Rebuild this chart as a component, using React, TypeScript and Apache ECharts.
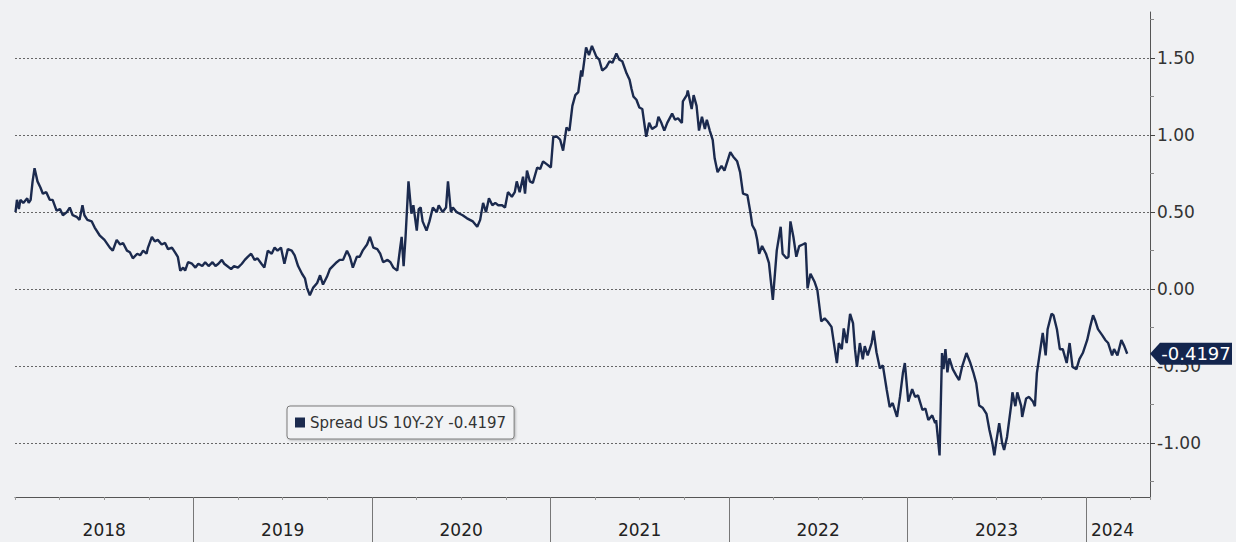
import React, { useEffect, useRef } from "react";
import * as echarts from "echarts";

const seriesName = "Spread US 10Y-2Y";

const dates: string[] = [
  "2018-01-02","2018-01-05","2018-01-09","2018-01-12","2018-01-18","2018-01-26","2018-01-29","2018-02-02","2018-02-06","2018-02-10",
  "2018-02-16","2018-02-22","2018-02-27","2018-03-06","2018-03-13","2018-03-19","2018-03-27","2018-04-03","2018-04-09","2018-04-17",
  "2018-04-23","2018-04-29","2018-05-07","2018-05-13","2018-05-19","2018-05-23","2018-05-29","2018-06-07","2018-06-13","2018-06-23",
  "2018-07-03","2018-07-14","2018-07-20","2018-07-28","2018-08-04","2018-08-10","2018-08-18","2018-08-24","2018-08-30","2018-09-08",
  "2018-09-14","2018-09-20","2018-09-27","2018-09-30","2018-10-08","2018-10-14","2018-10-20","2018-10-28","2018-11-04","2018-11-10",
  "2018-11-18","2018-11-24","2018-11-30","2018-12-05","2018-12-11","2018-12-15","2018-12-21","2018-12-29",
  "2019-01-05","2019-01-11","2019-01-19","2019-01-25","2019-02-01","2019-02-09","2019-02-15","2019-02-21","2019-02-28","2019-03-05",
  "2019-03-11","2019-03-19","2019-03-25","2019-04-02","2019-04-10","2019-04-16","2019-04-22","2019-04-29","2019-05-06","2019-05-12",
  "2019-05-20","2019-05-26","2019-06-02","2019-06-10","2019-06-16","2019-06-22","2019-06-29","2019-07-06","2019-07-13","2019-07-21",
  "2019-07-27","2019-08-03","2019-08-11","2019-08-17","2019-08-21","2019-08-27","2019-09-03","2019-09-11","2019-09-17","2019-09-23",
  "2019-10-01","2019-10-07","2019-10-13","2019-10-21","2019-10-27","2019-11-03","2019-11-11","2019-11-17","2019-11-23","2019-12-01",
  "2019-12-07","2019-12-13","2019-12-22","2019-12-28",
  "2020-01-04","2020-01-12","2020-01-18","2020-01-24","2020-02-02","2020-02-08","2020-02-14","2020-02-22","2020-02-28","2020-03-02",
  "2020-03-06","2020-03-10","2020-03-16","2020-03-22","2020-03-26","2020-04-02","2020-04-06","2020-04-10","2020-04-14","2020-04-22",
  "2020-04-28","2020-05-05","2020-05-13","2020-05-17","2020-05-25","2020-06-01","2020-06-05","2020-06-11","2020-06-15","2020-06-23",
  "2020-06-29","2020-07-05","2020-07-14","2020-07-20","2020-07-26","2020-08-04","2020-08-10","2020-08-16","2020-08-22","2020-08-28",
  "2020-09-04","2020-09-10","2020-09-16","2020-09-24","2020-09-30","2020-10-06","2020-10-14","2020-10-20","2020-10-24","2020-10-30",
  "2020-11-06","2020-11-10","2020-11-14","2020-11-20","2020-11-26","2020-12-05","2020-12-11","2020-12-17","2020-12-25",
  "2021-01-02","2021-01-07","2021-01-15","2021-01-21","2021-01-27","2021-02-03","2021-02-09","2021-02-15","2021-02-21","2021-02-27",
  "2021-03-05","2021-03-07","2021-03-15","2021-03-21","2021-03-27","2021-04-05","2021-04-11","2021-04-17","2021-04-25","2021-05-02",
  "2021-05-08","2021-05-16","2021-05-22","2021-05-28","2021-06-06","2021-06-12","2021-06-16","2021-06-20","2021-06-26","2021-07-02",
  "2021-07-08","2021-07-16","2021-07-22","2021-07-28","2021-08-06","2021-08-10","2021-08-16","2021-08-22","2021-08-28","2021-09-07",
  "2021-09-13","2021-09-19","2021-09-27","2021-09-29","2021-10-07","2021-10-09","2021-10-17","2021-10-21","2021-10-27","2021-11-01",
  "2021-11-07","2021-11-13","2021-11-17","2021-11-23","2021-11-29","2021-12-03","2021-12-09","2021-12-17","2021-12-23",
  "2022-01-04","2022-01-10","2022-01-18","2022-01-24","2022-01-30","2022-02-08","2022-02-14","2022-02-18","2022-02-24","2022-02-28",
  "2022-03-04","2022-03-10","2022-03-18","2022-03-24","2022-04-01","2022-04-09","2022-04-17","2022-04-21","2022-04-29","2022-05-03",
  "2022-05-07","2022-05-13","2022-05-19","2022-05-25","2022-06-01","2022-06-07","2022-06-11","2022-06-17","2022-06-25","2022-07-01",
  "2022-07-09","2022-07-16","2022-07-22","2022-07-30","2022-08-05","2022-08-10","2022-08-14","2022-08-20","2022-08-24","2022-08-30",
  "2022-09-06","2022-09-12","2022-09-16","2022-09-20","2022-09-26","2022-10-02","2022-10-06","2022-10-12","2022-10-20","2022-10-24",
  "2022-10-30","2022-11-06","2022-11-12","2022-11-20","2022-11-26","2022-12-02","2022-12-11","2022-12-17","2022-12-23","2022-12-27",
  "2023-01-03","2023-01-11","2023-01-17","2023-01-23","2023-02-01","2023-02-07","2023-02-13","2023-02-21","2023-02-27","2023-03-01",
  "2023-03-08","2023-03-13","2023-03-16","2023-03-20","2023-03-24","2023-03-28","2023-04-04","2023-04-11","2023-04-17","2023-04-23",
  "2023-05-02","2023-05-10","2023-05-16","2023-05-22","2023-05-28","2023-06-04","2023-06-12","2023-06-18","2023-06-24","2023-06-28",
  "2023-07-02","2023-07-08","2023-07-14","2023-07-18","2023-07-24","2023-08-02","2023-08-04","2023-08-10","2023-08-14","2023-08-22",
  "2023-08-24","2023-09-01","2023-09-07","2023-09-15","2023-09-19","2023-09-23","2023-09-29","2023-10-05","2023-10-11","2023-10-15",
  "2023-10-23","2023-10-27","2023-11-03","2023-11-09","2023-11-15","2023-11-23","2023-11-29","2023-12-05","2023-12-13","2023-12-19",
  "2023-12-26",
  "2024-01-04","2024-01-10","2024-01-16","2024-01-20","2024-01-26","2024-02-04","2024-02-10","2024-02-16","2024-02-24","2024-02-28",
  "2024-03-06","2024-03-14","2024-03-20","2024-03-26"
];

const values: number[] = [
  0.50,0.58,0.52,0.58,0.56,0.59,0.56,0.58,0.70,0.785,
  0.70,0.66,0.62,0.63,0.58,0.58,0.51,0.52,0.48,0.50,
  0.53,0.48,0.47,0.45,0.545,0.48,0.45,0.44,0.40,0.35,
  0.32,0.27,0.25,0.32,0.29,0.30,0.25,0.24,0.20,0.23,
  0.22,0.25,0.23,0.27,0.34,0.31,0.32,0.29,0.30,0.26,
  0.27,0.24,0.21,0.12,0.14,0.12,0.175,0.165,
  0.14,0.165,0.15,0.175,0.15,0.175,0.15,0.165,0.19,0.165,
  0.15,0.13,0.15,0.14,0.165,0.19,0.21,0.23,0.19,0.20,
  0.165,0.14,0.25,0.23,0.27,0.25,0.27,0.165,0.26,0.25,
  0.22,0.15,0.10,0.07,0.01,-0.04,0.01,0.04,0.09,0.03,
  0.08,0.13,0.15,0.175,0.19,0.19,0.25,0.21,0.14,0.21,
  0.21,0.25,0.29,0.34,
  0.27,0.26,0.23,0.175,0.19,0.175,0.14,0.12,0.27,0.34,
  0.15,0.34,0.70,0.49,0.545,0.38,0.52,0.53,0.44,0.38,
  0.44,0.53,0.50,0.545,0.50,0.53,0.70,0.50,0.53,0.50,
  0.49,0.48,0.46,0.45,0.44,0.405,0.45,0.56,0.50,0.59,
  0.545,0.56,0.545,0.545,0.53,0.63,0.60,0.63,0.70,0.63,
  0.73,0.62,0.77,0.70,0.69,0.79,0.78,0.83,0.81,
  0.79,0.99,0.99,0.97,0.90,1.05,1.03,1.19,1.26,1.28,
  1.42,1.38,1.57,1.52,1.58,1.51,1.49,1.42,1.44,1.48,
  1.47,1.53,1.49,1.48,1.40,1.36,1.30,1.25,1.23,1.18,
  1.17,0.99,1.08,1.04,1.06,1.12,1.08,1.03,1.08,1.14,
  1.10,1.11,1.08,1.22,1.26,1.29,1.17,1.26,1.19,1.03,
  1.12,1.04,1.10,1.03,0.97,0.85,0.76,0.80,0.77,
  0.89,0.86,0.83,0.76,0.62,0.61,0.50,0.415,0.38,0.32,
  0.23,0.28,0.23,0.17,-0.07,0.25,0.405,0.23,0.20,0.21,
  0.44,0.34,0.21,0.28,0.29,0.30,0.005,0.10,0.05,-0.005,
  -0.21,-0.19,-0.21,-0.245,-0.375,-0.48,-0.35,-0.39,-0.255,-0.35,
  -0.16,-0.22,-0.39,-0.505,-0.35,-0.455,-0.37,-0.43,-0.35,-0.27,
  -0.41,-0.515,-0.495,-0.655,-0.765,-0.74,-0.83,-0.70,-0.545,-0.48,
  -0.73,-0.65,-0.70,-0.69,-0.785,-0.775,-0.85,-0.82,-0.87,-0.85,
  -1.08,-0.415,-0.52,-0.39,-0.54,-0.45,-0.52,-0.56,-0.59,-0.505,
  -0.415,-0.48,-0.54,-0.61,-0.755,-0.77,-0.81,-0.915,-1.00,-1.08,
  -0.99,-0.87,-1.00,-1.045,-0.96,-0.74,-0.67,-0.76,-0.67,-0.76,
  -0.83,-0.71,-0.70,-0.73,-0.76,-0.545,-0.415,-0.285,-0.43,-0.26,
  -0.16,-0.17,-0.26,-0.39,-0.39,-0.48,-0.35,-0.505,-0.52,-0.455,
  -0.415,
  -0.33,-0.245,-0.17,-0.20,-0.26,-0.30,-0.33,-0.35,-0.43,-0.39,
  -0.43,-0.33,-0.37,-0.4197
];

const yTickValues = [-1, -0.5, 0, 0.5, 1, 1.5];
const yMinorTickValues = [-1.25, -0.75, -0.25, 0.25, 0.75, 1.25, 1.75];
const yearSeparators = [2019, 2020, 2021, 2022, 2023, 2024];
const yearLabelPositions = [2018.5, 2019.5, 2020.5, 2021.5, 2022.5, 2023.5, 2024.15];
const xMin = 2018;
const xMax = 2024.36;
const yMin = -1.35;
const yMax = 1.8;

const NAVY = "#1b2a4e";
const FONT = "DejaVu Sans";

function toYearFraction(s: string): number {
  const [y, m, d] = s.split("-").map(Number);
  const start = Date.UTC(y, 0, 1);
  const end = Date.UTC(y + 1, 0, 1);
  return y + (Date.UTC(y, m - 1, d) - start) / (end - start);
}

export default function App() {
  const ref = useRef<HTMLDivElement>(null);

  useEffect(() => {
    if (!ref.current) return;
    const chart = echarts.init(ref.current, undefined, { renderer: "svg" });
    const points = dates.map((d, i) => [toYearFraction(d), values[i]]);
    const last = values[values.length - 1];
    const lastText = last.toFixed(4);

    chart.setOption({
      animation: false,
      backgroundColor: "#f0f1f3",
      grid: { left: 15, right: 86, top: 12, bottom: 45, containLabel: false },
      legend: {
        data: [seriesName],
        left: 287,
        top: 406,
        orient: "horizontal",
        icon: "rect",
        itemWidth: 10,
        itemHeight: 10,
        itemGap: 6,
        padding: [9, 8, 9, 8],
        borderColor: "#7a7a7a",
        borderWidth: 1,
        borderRadius: 3,
        backgroundColor: "#f2f3f5",
        shadowColor: "rgba(0,0,0,0.25)",
        shadowBlur: 2,
        shadowOffsetX: 1,
        shadowOffsetY: 1,
        textStyle: { color: "#333", fontSize: 15, fontFamily: FONT },
        formatter: (name: string) => `${name} ${lastText}`,
        selectedMode: false,
      },
      xAxis: [
        {
          type: "value",
          min: xMin,
          max: xMax,
          interval: 0.25,
          position: "bottom",
          axisLine: { show: true, onZero: false, lineStyle: { color: "#555", width: 1 } },
          axisTick: { show: true, length: 3, lineStyle: { color: "#999" } },
          axisLabel: {
            show: true,
            customValues: yearLabelPositions,
            formatter: (v: number) => String(Math.floor(v)),
            color: "#222",
            fontSize: 17,
            fontFamily: FONT,
            margin: 24,
          },
          splitLine: { show: false },
        },
        {
          type: "value",
          min: xMin,
          max: xMax,
          position: "bottom",
          axisLine: { show: false, onZero: false },
          axisTick: {
            show: true,
            customValues: yearSeparators,
            length: 45,
            lineStyle: { color: "#777", width: 1 },
          },
          axisLabel: { show: false },
          splitLine: { show: false },
        },
      ],
      yAxis: [
        {
          type: "value",
          min: yMin,
          max: yMax,
          position: "right",
          axisLine: { show: true, onZero: false, lineStyle: { color: "#555", width: 1 } },
          axisTick: {
            show: true,
            customValues: yTickValues,
            length: 5,
            lineStyle: { color: "#444" },
          },
          axisLabel: {
            show: true,
            customValues: yTickValues,
            formatter: (v: number) => v.toFixed(2),
            color: "#333",
            fontSize: 17,
            fontFamily: FONT,
            margin: 7,
          },
          splitLine: {
            show: true,
            lineStyle: { color: "#666", type: [2, 2], width: 1 },
          },
        },
        {
          type: "value",
          min: yMin,
          max: yMax,
          position: "right",
          axisLine: { show: false, onZero: false },
          axisTick: {
            show: true,
            customValues: yMinorTickValues,
            length: 4,
            lineStyle: { color: "#888" },
          },
          axisLabel: { show: false },
          splitLine: { show: false },
        },
      ],
      series: [
        {
          name: seriesName,
          type: "line",
          xAxisIndex: 0,
          yAxisIndex: 0,
          data: points,
          showSymbol: false,
          symbol: "none",
          clip: false,
          z: 5,
          itemStyle: { color: NAVY },
          lineStyle: { color: NAVY, width: 2.4 },
          markPoint: {
            silent: true,
            symbol: "path://M0,11L10,0L82,0L82,22L10,22Z",
            symbolSize: [82, 22],
            symbolOffset: [41, 0],
            symbolKeepAspect: false,
            itemStyle: { color: "#13254d" },
            label: {
              show: true,
              position: "inside",
              offset: [5, 0],
              color: "#ffffff",
              fontSize: 18,
              fontFamily: FONT,
              formatter: () => lastText,
            },
            data: [{ coord: [xMax, last], value: last }],
          },
        },
      ],
    });

    return () => chart.dispose();
  }, []);

  return (
    <div
      ref={ref}
      style={{ position: "fixed", left: 0, top: 0, width: 1236, height: 542 }}
    />
  );
}
